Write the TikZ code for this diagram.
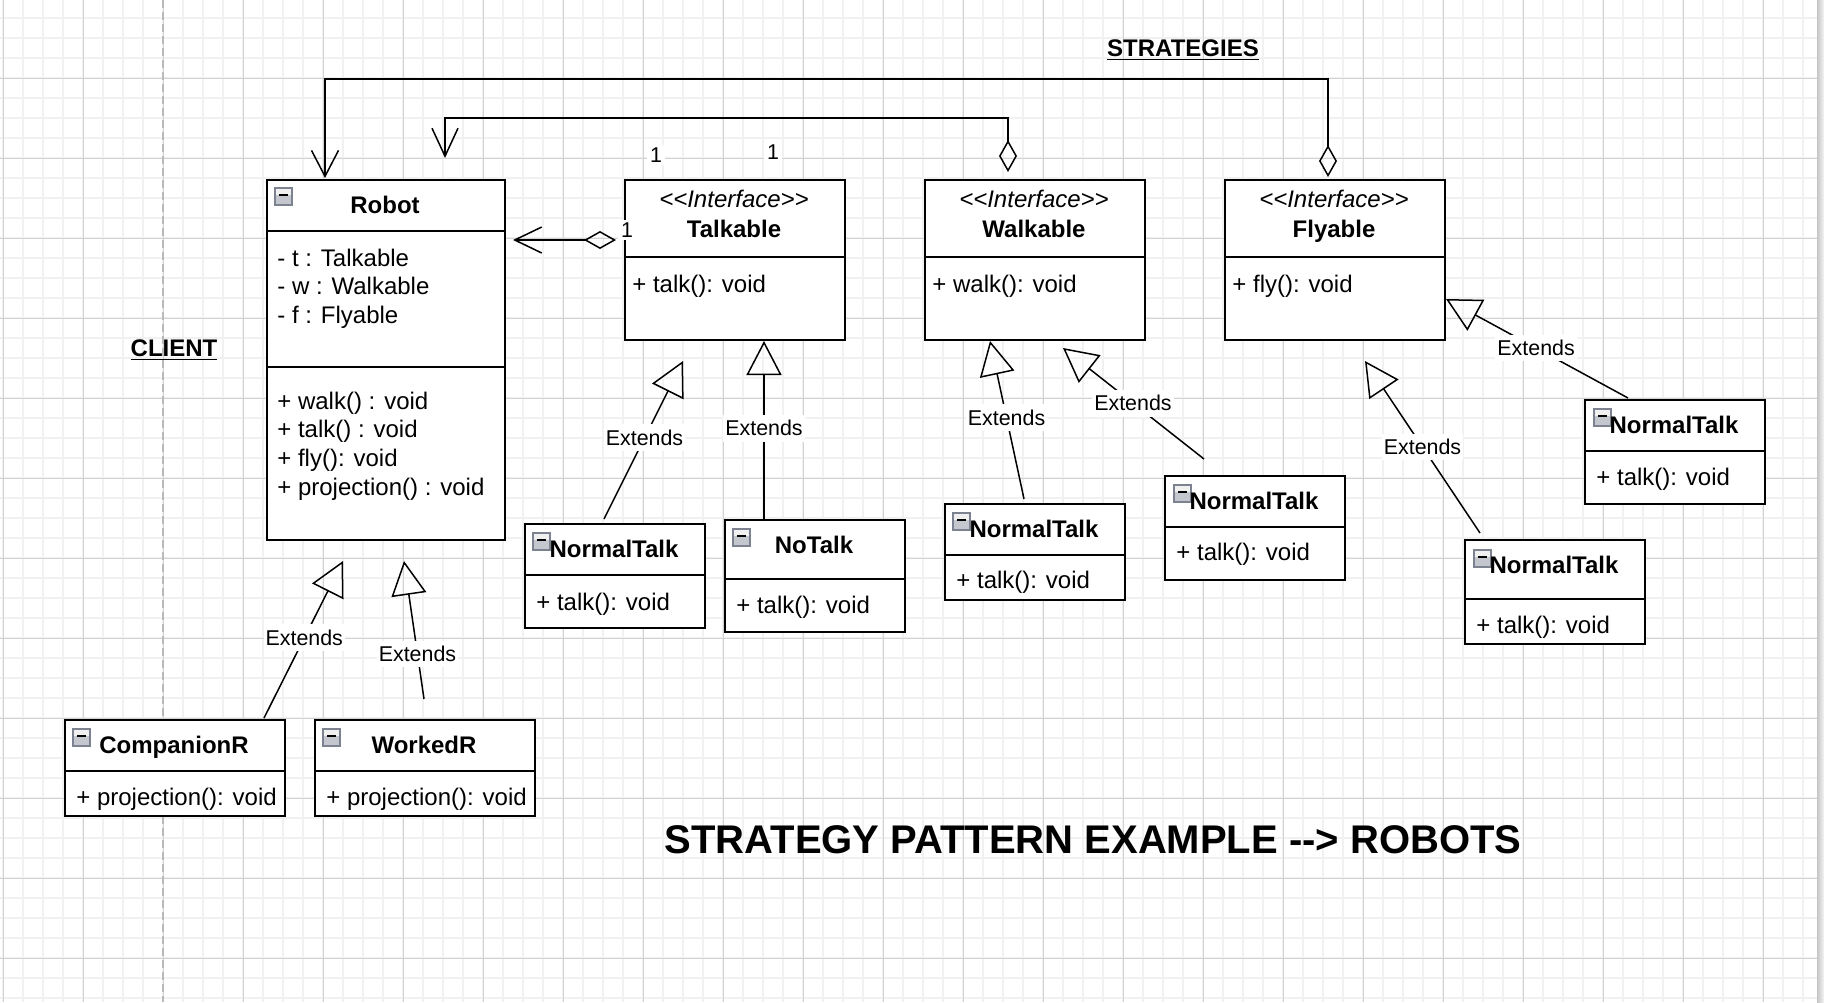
\documentclass[tikz,border=0pt]{standalone}
\usepackage{fontspec}
\setmainfont{Liberation Sans}
\usetikzlibrary{arrows.meta}
\definecolor{gridminor}{HTML}{F1F1F1}
\definecolor{gridmajor}{HTML}{D2D2D2}
\definecolor{iconedge}{HTML}{7C8290}
\definecolor{iconfill}{HTML}{C4C7CE}
\begin{document}
\begin{tikzpicture}[x=0.5pt,y=-0.5pt,
  box/.style={draw, line width=1pt, fill=white, rectangle, inner sep=0pt, anchor=north west},
  sep/.style={line width=1pt},
  conn/.style={line width=0.75pt},
  txt/.style={inner sep=0pt, anchor=base west, font=\fontsize{12}{14.4}\selectfont},
  ttl/.style={inner sep=0pt, anchor=base, font=\fontsize{12}{14.4}\selectfont\bfseries},
  ster/.style={inner sep=0pt, anchor=base, font=\fontsize{12}{14.4}\selectfont\itshape},
  lbl/.style={fill=white, inner xsep=1pt, inner ysep=2.8pt, font=\fontsize{10.7}{12.8}\selectfont},
  mult/.style={fill=white, inner sep=1.5pt, font=\fontsize{10.7}{12.8}\selectfont},
  ext/.style={conn, -{Triangle[open, length=17pt, width=17.5pt]}},
  agg/.style={conn, {Diamond[open, length=16pt, width=9pt]}-{Straight Barb[length=13.5pt, width=13pt]}},
  collapse/.pic={
    \fill[iconfill] (0,0) rectangle (17,17);
    \fill[gray!12] (1,1) rectangle (16,7);
    \draw[iconedge, line width=0.6pt] (0,0) rectangle (17,17);
    \draw[black, line width=1pt] (4,7) -- (13,7);
  }
]
\useasboundingbox (0,0) rectangle (1824,1002);
\fill[white] (0,0) rectangle (1824,1002);
% grid
\foreach \x in {3,23,...,1803} \draw[gridminor, line width=0.8pt] (\x,0) -- (\x,1002);
\foreach \y in {18,38,...,998} \draw[gridminor, line width=0.8pt] (0,\y) -- (1817,\y);
\foreach \x in {3,83,...,1763} \draw[gridmajor, line width=0.5pt] (\x,0) -- (\x,1002);
\foreach \y in {78,158,...,958} \draw[gridmajor, line width=0.5pt] (0,\y) -- (1817,\y);
\draw[gray!55, line width=0.7pt, dash pattern=on 4pt off 2pt] (163,0) -- (163,1002);
\shade[left color=gray!45, right color=gray!8] (1817,0) rectangle (1824,1002);

% free connector ends
\coordinate (aggS) at (616,240);
\coordinate (aggT) at (513,240);
\coordinate (walkS) at (1008,172);
\coordinate (robIn) at (445,158);
\coordinate (flyS) at (1328,177);
\coordinate (robOut) at (325,178);
\coordinate (e1s) at (604,519);  \coordinate (e1t) at (683,361);
\coordinate (e2s) at (764,519);  \coordinate (e2t) at (764,341);
\coordinate (e3s) at (1024,499); \coordinate (e3t) at (990,341);
\coordinate (e4s) at (1204,459); \coordinate (e4t) at (1063,348);
\coordinate (e5s) at (1628,398); \coordinate (e5t) at (1446,299);
\coordinate (e6s) at (1480,533); \coordinate (e6t) at (1365,361);
\coordinate (e7s) at (264,718);  \coordinate (e7t) at (343,561);
\coordinate (e8s) at (424,699);  \coordinate (e8t) at (404,561);

% connectors
\draw[agg] (aggS) -- (aggT);
\draw[conn, {Diamond[open, length=16pt, width=9pt]}-{Straight Barb[length=14pt, width=13pt]}] (walkS) -- (walkS |- 0,118) -| (robIn);
\draw[conn, {Diamond[open, length=16pt, width=9pt]}-{Straight Barb[length=13pt, width=13.5pt]}] (flyS) -- (flyS |- 0,79) -| (robOut);
\draw[ext] (e1s) -- node[lbl, pos=0.513] (l1) {Extends} (e1t);
\draw[ext] (e2s) -- node[lbl, pos=0.511] (l2) {Extends} (e2t);
\draw[ext] (e3s) -- node[lbl, pos=0.513] (l3) {Extends} (e3t);
\draw[ext] (e4s) -- node[lbl, pos=0.504] (l4) {Extends} (e4t);
\draw[ext] (e5s) -- node[lbl, pos=0.505] (l5) {Extends} (e5t);
\draw[ext] (e6s) -- node[lbl, pos=0.5] (l6) {Extends} (e6t);
\draw[ext] (e7s) -- node[lbl, pos=0.51] (l7) {Extends} (e7t);
\draw[ext] (e8s) -- node[lbl, pos=0.326] (l8) {Extends} (e8t);

% Robot
\node[box, minimum width=119pt, minimum height=180pt] (robot) at (266,179) {};
\draw[sep] (robot.west |- 0,231) -- (robot.east |- 0,231);
\draw[sep] (robot.west |- 0,367) -- (robot.east |- 0,367);
\pic at (275,188) {collapse};
\node[ttl] (robotT) at (385,213) {Robot};
\node[txt] (ra1) at (277,266) {- t : Talkable};
\node[txt] (ra2) at (277,294.8) {- w : Walkable};
\node[txt] (ra3) at (277,323.6) {- f : Flyable};
\node[txt] (rm1) at (277,409) {+ walk() : void};
\node[txt] (rm2) at (277,437.8) {+ talk() : void};
\node[txt] (rm3) at (277,466.6) {+ fly(): void};
\node[txt] (rm4) at (277,495.4) {+ projection() : void};

% Interfaces
\node[box, minimum width=110pt, minimum height=80pt] (talk) at (624,179) {};
\draw[sep] (talk.west |- 0,257) -- (talk.east |- 0,257);
\node[ster] (talkS) at (734,207) {<{}<Interface>{}>};
\node[ttl] (talkT) at (734,237) {Talkable};
\node[txt] (talkM) at (632,292) {+ talk(): void};

\node[box, minimum width=110pt, minimum height=80pt] (walk) at (924,179) {};
\draw[sep] (walk.west |- 0,257) -- (walk.east |- 0,257);
\node[ster] (walkS2) at (1034,207) {<{}<Interface>{}>};
\node[ttl] (walkT) at (1034,237) {Walkable};
\node[txt] (walkM) at (932,292) {+ walk(): void};

\node[box, minimum width=110pt, minimum height=80pt] (fly) at (1224,179) {};
\draw[sep] (fly.west |- 0,257) -- (fly.east |- 0,257);
\node[ster] (flyS2) at (1334,207) {<{}<Interface>{}>};
\node[ttl] (flyT) at (1334,237) {Flyable};
\node[txt] (flyM) at (1232,292) {+ fly(): void};

% multiplicities
\node[mult] (m1) at (627,230) {1};
\node[mult] (m2) at (656,155) {1};
\node[mult] (m3) at (773,152) {1};

% Talkable implementations
\node[box, minimum width=90pt, minimum height=52pt] (nt1) at (524,523) {};
\draw[sep] (nt1.west |- 0,575) -- (nt1.east |- 0,575);
\pic at (533,533) {collapse};
\node[ttl] (nt1T) at (614,557) {NormalTalk};
\node[txt] (nt1M) at (536,610) {+ talk(): void};

\node[box, minimum width=90pt, minimum height=56pt] (nota) at (724,519) {};
\draw[sep] (nota.west |- 0,579) -- (nota.east |- 0,579);
\pic at (733,529) {collapse};
\node[ttl] (notaT) at (814,553) {NoTalk};
\node[txt] (notaM) at (736,613) {+ talk(): void};

% Walkable implementations
\node[box, minimum width=90pt, minimum height=48pt] (nt2) at (944,503) {};
\draw[sep] (nt2.west |- 0,555) -- (nt2.east |- 0,555);
\pic at (953,513) {collapse};
\node[ttl] (nt2T) at (1034,537) {NormalTalk};
\node[txt] (nt2M) at (956,588) {+ talk(): void};

\node[box, minimum width=90pt, minimum height=52pt] (nt3) at (1164,475) {};
\draw[sep] (nt3.west |- 0,527) -- (nt3.east |- 0,527);
\pic at (1174,485) {collapse};
\node[ttl] (nt3T) at (1254,509) {NormalTalk};
\node[txt] (nt3M) at (1176,560) {+ talk(): void};

% Flyable implementations
\node[box, minimum width=90pt, minimum height=52pt] (nt4) at (1584,399) {};
\draw[sep] (nt4.west |- 0,451) -- (nt4.east |- 0,451);
\pic at (1594,409) {collapse};
\node[ttl] (nt4T) at (1674,433) {NormalTalk};
\node[txt] (nt4M) at (1596,485) {+ talk(): void};

\node[box, minimum width=90pt, minimum height=52pt] (nt5) at (1464,539) {};
\draw[sep] (nt5.west |- 0,599) -- (nt5.east |- 0,599);
\pic at (1474,550) {collapse};
\node[ttl] (nt5T) at (1554,573) {NormalTalk};
\node[txt] (nt5M) at (1476,633) {+ talk(): void};

% Robot subclasses
\node[box, minimum width=110pt, minimum height=48pt] (comp) at (64,719) {};
\draw[sep] (comp.west |- 0,771) -- (comp.east |- 0,771);
\pic at (73,729) {collapse};
\node[ttl] (compT) at (174,753) {CompanionR};
\node[txt] (compM) at (76,805) {+ projection(): void};

\node[box, minimum width=110pt, minimum height=48pt] (work) at (314,719) {};
\draw[sep] (work.west |- 0,771) -- (work.east |- 0,771);
\pic at (323,729) {collapse};
\node[ttl] (workT) at (424,753) {WorkedR};
\node[txt] (workM) at (326,805) {+ projection(): void};

% free texts
\node[ttl] (strat) at (1183,56) {\underline{STRATEGIES}};
\node[ttl] (client) at (174,356) {\underline{CLIENT}};
\node[inner sep=0pt, anchor=base, font=\fontsize{20}{24}\selectfont\bfseries] (title) at (1093,853) {STRATEGY PATTERN EXAMPLE -{}-> ROBOTS};
\end{tikzpicture}
\end{document}
